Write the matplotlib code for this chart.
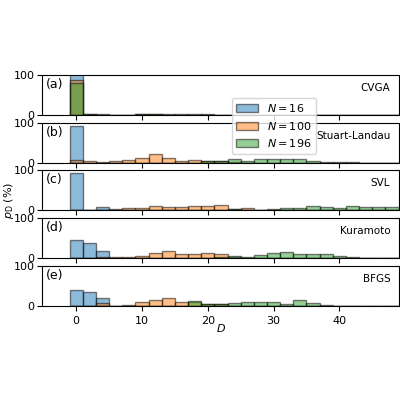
import matplotlib
matplotlib.use("Agg")
import matplotlib.pyplot as plt
import numpy as np

centers = np.arange(0, 50, 2)
def arr(d):
    a = np.zeros(len(centers))
    for k, v in d.items():
        a[k // 2] = v
    return a

methods = ["CVGA", "Stuart-Landau", "SVL", "Kuramoto", "BFGS"]
letters = ["(a)", "(b)", "(c)", "(d)", "(e)"]
n16 = [arr({0: 105}), arr({0: 92}), arr({0: 92, 4: 7}),
       arr({0: 45, 2: 37, 4: 18}), arr({0: 41, 2: 35, 4: 20})]
n100 = [arr({0: 88, 2: 2, 4: 1, 10: 2, 12: 2}),
        arr({0: 8, 2: 5, 4: 1, 6: 4, 8: 8, 10: 11, 12: 21, 14: 13, 16: 5, 18: 6, 20: 5, 22: 4, 24: 3}),
        arr({2: 1, 6: 2, 8: 4, 10: 6, 12: 9, 14: 8, 16: 8, 18: 10, 20: 9, 22: 13, 24: 2, 26: 6}),
        arr({4: 2, 6: 2, 8: 3, 10: 6, 12: 13, 14: 18, 16: 10, 18: 11, 20: 13, 22: 9, 24: 3, 26: 1}),
        arr({4: 7, 6: 1, 8: 2, 10: 10, 12: 16, 14: 20, 16: 11, 18: 11, 20: 6, 22: 5})]
n196 = [arr({0: 81, 2: 2, 4: 2, 6: 1, 10: 3, 12: 2, 14: 4, 16: 2, 18: 4, 20: 2, 22: 1}),
        arr({20: 5, 22: 5, 24: 9, 26: 5, 28: 10, 30: 10, 32: 9, 34: 10, 36: 5, 38: 3, 40: 1, 42: 1}),
        arr({24: 2, 26: 1, 28: 1, 30: 3, 32: 4, 34: 5, 36: 9, 38: 7, 40: 5, 42: 10, 44: 7, 46: 7, 48: 8}),
        arr({22: 2, 24: 5, 26: 3, 28: 7, 30: 12, 32: 16, 34: 11, 36: 11, 38: 11, 40: 6, 42: 3, 44: 1, 46: 1}),
        arr({18: 13, 20: 6, 22: 6, 24: 8, 26: 9, 28: 9, 30: 10, 32: 4, 34: 14, 36: 8, 38: 2, 40: 1, 44: 1})]
labels = ["$N=16$", "$N=100$", "$N=196$"]
colors = ["C0", "C1", "C2"]

plt.rcParams['font.size'] = 8
fig = plt.figure(figsize=(4, 4), dpi=100)
left, right = 0.105, 0.998
tops = [0.812, 0.693, 0.575, 0.455, 0.335]
h = 0.1
axes = []
for i in range(5):
    ax = fig.add_axes([left, tops[i] - h, right - left, h])
    axes.append(ax)
    for s, (data, c, lab) in enumerate(zip([n16[i], n100[i], n196[i]], colors, labels)):
        ax.bar(centers, data, width=2, color=c, alpha=0.5, edgecolor="black", linewidth=1, label=lab)
    ax.set_xlim(-5.2, 49.1)
    ax.set_ylim(0, 100)
    ax.set_yticks([0, 100])
    ax.tick_params(axis="y", pad=2)
    ax.text(0.012, 0.93, letters[i], transform=ax.transAxes, va="top", ha="left", fontsize=9)
    ax.text(0.975, 0.8, methods[i], transform=ax.transAxes, va="top", ha="right", fontsize=7.5)
    if i < 4:
        ax.set_xticklabels([])
    else:
        ax.set_xticks([0, 10, 20, 30, 40])
axes[4].set_xlabel("$D$", labelpad=-3)
fig.text(0.022, 0.5, r"$p_\mathrm{D}$ (%)", rotation=90, va="center", ha="center")
h_, l_ = axes[0].get_legend_handles_labels()
fig.legend(h_, l_, loc="upper left", bbox_to_anchor=(0.565, 0.77), fontsize=8, framealpha=0.8)
fig.savefig("out.png", dpi=100)
